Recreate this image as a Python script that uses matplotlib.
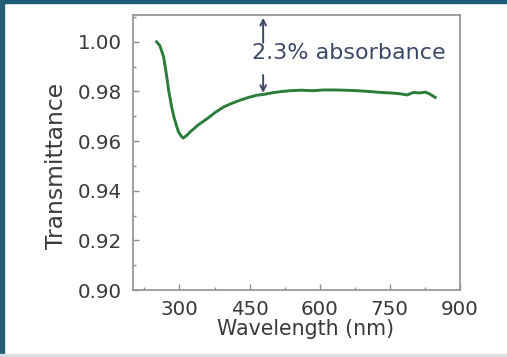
import matplotlib
matplotlib.use("Agg")
import matplotlib.pyplot as plt
from matplotlib.patches import Rectangle
from matplotlib.ticker import MultipleLocator

wavelength = [251, 258, 266, 272, 277, 283, 288, 294, 298, 303, 308, 315, 323, 340, 359, 377,
              395, 412, 430, 448, 466, 480, 500, 520, 537, 560, 585, 608, 630, 655, 680, 705,
              730, 751, 770, 787, 795, 801, 812, 826, 835, 847]
transmittance = [1.000, 0.9985, 0.994, 0.987, 0.9803, 0.974, 0.9698, 0.9660, 0.9637, 0.9622,
                 0.9612, 0.9622, 0.9637, 0.9665, 0.969, 0.9716, 0.9738, 0.9752, 0.9765, 0.9776,
                 0.9785, 0.9788, 0.9795, 0.9800, 0.9803, 0.9805, 0.9803, 0.9806, 0.9806, 0.9805,
                 0.9803, 0.9800, 0.9796, 0.9794, 0.9791, 0.9786, 0.9792, 0.9796, 0.9794, 0.9797,
                 0.9790, 0.9776]
x_ticks = [300, 450, 600, 750, 900]
y_ticks = [0.90, 0.92, 0.94, 0.96, 0.98, 1.00]
annotation_text = "2.3% absorbance"
arrow_wavelength = 479

text_color = "#3a3a3a"
ann_color = "#3b4868"

fig = plt.figure(figsize=(5.07, 3.57), dpi=100)
fig.patch.set_facecolor("white")
# border decoration
fig.add_artist(Rectangle((0, 1 - 3 / 357), 1, 3 / 357, transform=fig.transFigure,
                         color="#1b5b75", zorder=0))
fig.add_artist(Rectangle((0, 0), 4 / 507, 1, transform=fig.transFigure,
                         color="#245f78", zorder=0))
fig.add_artist(Rectangle((0, 0), 1, 3 / 357, transform=fig.transFigure,
                         color="#d5dfe5", zorder=0))

ax = fig.add_axes([132.7 / 507, 1 - 290 / 357, (460 - 132.7) / 507, (290 - 15) / 357])
ax.plot(wavelength, transmittance, color="#2b7d3b", lw=2.1)
ax.set_xlim(200, 900)
ax.set_ylim(0.90, 1.0108)
ax.set_xticks(x_ticks)
ax.set_yticks(y_ticks)
ax.set_yticklabels([f"{v:.2f}" for v in y_ticks])
ax.xaxis.set_minor_locator(MultipleLocator(75))
ax.yaxis.set_minor_locator(MultipleLocator(0.01))
ax.tick_params(which="both", direction="in", top=False, right=False, colors="#909090",
               labelcolor=text_color, labelsize=14.3)
ax.tick_params(axis="y", pad=7.5)
ax.tick_params(axis="x", pad=7.5)
ax.tick_params(which="major", length=4, width=1)
ax.tick_params(which="minor", length=2.5, width=1)
for s in ax.spines.values():
    s.set_color("#999999")
    s.set_linewidth(1.3)
ax.set_xlabel("Wavelength (nm)", fontsize=14.8, color=text_color)
ax.xaxis.label.set_va("baseline")
ax.xaxis.set_label_coords(0.528, -0.1636)
ax.set_ylabel("Transmittance", fontsize=16.8, color=text_color)
ax.yaxis.label.set_va("center")
ax.yaxis.set_label_coords(-0.232, 0.452)

ax.annotate("", xy=(arrow_wavelength, 1.0108), xytext=(arrow_wavelength, 0.9985),
            arrowprops=dict(arrowstyle="->", color=ann_color, lw=1.4))
ax.annotate("", xy=(arrow_wavelength, 0.9783), xytext=(arrow_wavelength, 0.9877),
            arrowprops=dict(arrowstyle="->", color=ann_color, lw=1.4))
ax.text(arrow_wavelength - 24, 0.9953, annotation_text, color=ann_color, fontsize=16,
        ha="left", va="center")

fig.savefig("out.png", dpi=100)
